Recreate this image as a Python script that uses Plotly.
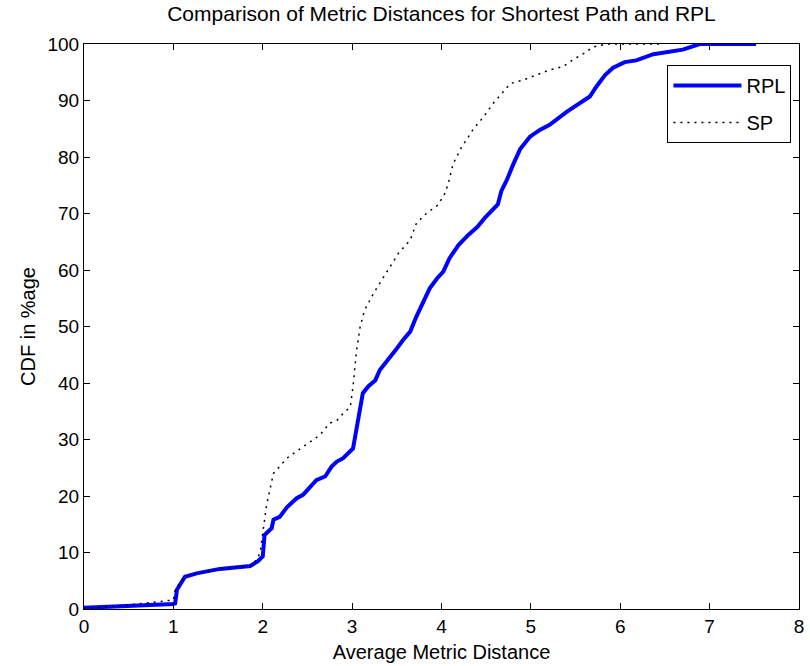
import plotly.graph_objects as go

# RPL: CDF of average metric distance
rpl_x = [0.0, 0.5, 1.0, 1.02, 1.04, 1.13, 1.26, 1.52, 1.86, 1.95, 2.0, 2.02, 2.10, 2.12, 2.19,
         2.27, 2.38, 2.45, 2.53, 2.60, 2.70, 2.77, 2.83, 2.90, 3.01, 3.04, 3.07, 3.12, 3.18,
         3.26, 3.31, 3.39, 3.50, 3.57, 3.65, 3.72, 3.80, 3.87, 3.95, 4.02, 4.09, 4.19, 4.30,
         4.40, 4.49, 4.56, 4.63, 4.67, 4.73, 4.80, 4.88, 4.99, 5.10, 5.21, 5.40, 5.66, 5.73,
         5.83, 5.92, 6.05, 6.18, 6.37, 6.55, 6.70, 6.89, 7.52]
rpl_y = [0.2, 0.5, 0.9, 1.0, 3.4, 5.7, 6.3, 7.1, 7.6, 8.5, 9.3, 13.1, 14.3, 15.8, 16.3,
         18.0, 19.6, 20.2, 21.7, 22.8, 23.5, 25.2, 26.1, 26.7, 28.4, 31.0, 33.5, 38.2, 39.4,
         40.5, 42.3, 43.8, 46.1, 47.6, 49.1, 51.8, 54.7, 56.8, 58.5, 59.7, 62.1, 64.4, 66.2,
         67.6, 69.3, 70.5, 71.6, 74.0, 75.9, 78.6, 81.4, 83.6, 84.8, 85.7, 88.0, 90.7, 92.4,
         94.5, 95.8, 96.8, 97.1, 98.2, 98.7, 99.0, 100.0, 100.0]

# SP: CDF of average metric distance
sp_x = [0.0, 0.5, 1.0, 1.02, 1.12, 1.26, 1.52, 1.86, 1.93, 1.97, 2.01, 2.04, 2.08, 2.12,
        2.27, 2.45, 2.64, 2.75, 2.83, 2.90, 2.98, 3.01, 3.03, 3.05, 3.09, 3.14, 3.24, 3.31,
        3.42, 3.52, 3.65, 3.72, 3.83, 3.96, 4.04, 4.08, 4.13, 4.22, 4.35, 4.47, 4.58, 4.69,
        4.77, 4.91, 5.06, 5.21, 5.36, 5.47, 5.59, 5.70, 5.85, 6.48]
sp_y = [0.0, 0.7, 1.6, 3.4, 5.7, 6.3, 7.1, 7.6, 8.7, 9.9, 14.6, 18.1, 21.1, 24.0,
        26.7, 28.7, 30.8, 32.9, 33.4, 34.6, 35.8, 39.4, 42.9, 45.8, 50.0, 52.9, 55.9, 57.7,
        60.6, 63.0, 65.3, 68.3, 70.0, 71.5, 73.6, 75.6, 78.8, 81.6, 84.8, 87.1, 89.5, 91.6,
        93.0, 93.6, 94.5, 95.4, 96.0, 97.2, 98.3, 99.5, 100.0, 100.0]

x_ticks = [0, 1, 2, 3, 4, 5, 6, 7, 8]
y_ticks = [0, 10, 20, 30, 40, 50, 60, 70, 80, 90, 100]

FONT = "Liberation Sans, Arial, Helvetica, sans-serif"

fig = go.Figure()
fig.add_trace(go.Scatter(x=rpl_x, y=rpl_y, mode="lines", name="RPL", legendgroup="rpl",
                         line=dict(color="rgb(0,0,255)", width=4)))
fig.add_trace(go.Scatter(x=sp_x, y=sp_y, mode="lines", name="SP", legendgroup="sp",
                         line=dict(color="black", width=1.5, dash="2px,5px")))

axis_common = dict(
    showline=True, linecolor="black", linewidth=1, mirror="ticks",
    ticks="inside", ticklen=6, tickcolor="black", showgrid=False, zeroline=False,
    automargin=False,
    tickfont=dict(family=FONT, size=19, color="black"),
)

fig.update_layout(
    width=810, height=666,
    paper_bgcolor="white", plot_bgcolor="white",
    margin=dict(l=84, r=11, t=44, b=57),
    font=dict(family=FONT, size=19, color="black"),
    title=dict(text="Comparison of Metric Distances for Shortest Path and RPL",
               xref="paper", x=0.5, xanchor="center", y=0.99, yanchor="top",
               font=dict(family=FONT, size=21, color="black")),
    xaxis=dict(range=[0, 8], tickvals=x_ticks,
               title=dict(text="Average Metric Distance", standoff=9,
                          font=dict(family=FONT, size=20)),
               **axis_common),
    yaxis=dict(range=[0, 100], tickvals=y_ticks,
               title=dict(text="CDF in %age", standoff=6,
                          font=dict(family=FONT, size=20)),
               **axis_common),
    legend=dict(x=0.816, y=0.963, xanchor="left", yanchor="top",
                bgcolor="white", bordercolor="black", borderwidth=1,
                font=dict(family=FONT, size=20), itemwidth=68,
                tracegroupgap=8),
    showlegend=True,
)

fig.write_html("out.html")
